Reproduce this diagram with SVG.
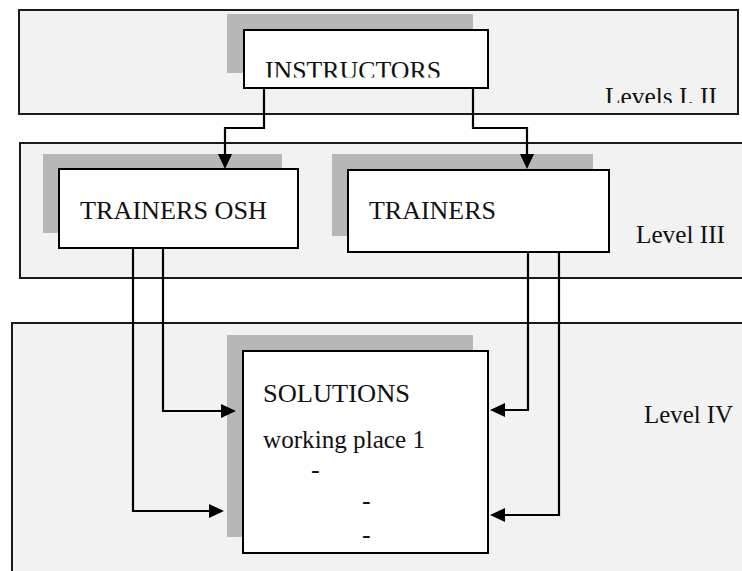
<svg xmlns="http://www.w3.org/2000/svg" width="742" height="571" viewBox="0 0 742 571">
  <style>
    .band { fill: #f2f2f2; stroke: #1a1a1a; stroke-width: 2; }
    .shadow { fill: #b7b7b7; stroke: none; }
    .box { fill: #ffffff; stroke: #000000; stroke-width: 2; }
    .label { font-family: "Liberation Serif", "DejaVu Serif", serif; font-size: 26px; fill: #111111; }
    .wire { fill: none; stroke: #000000; stroke-width: 2.2; }
  </style>
  <defs>
    <marker id="head" viewBox="0 0 15 14" refX="0" refY="7" markerWidth="15" markerHeight="14" markerUnits="userSpaceOnUse" orient="auto">
      <path d="M0,0 L15,7 L0,14 Z" fill="#000000"/>
    </marker>
    <clipPath id="clipInstr" clipPathUnits="userSpaceOnUse">
      <rect x="244" y="30" width="244" height="47.5"/>
    </clipPath>
    <clipPath id="clipLv12" clipPathUnits="userSpaceOnUse">
      <rect x="590" y="70" width="140" height="33"/>
    </clipPath>
  </defs>

  <!-- level bands -->
  <g id="band-levels-1-2">
    <rect class="band" x="19" y="10" width="719" height="104"/>
    <text class="label" x="605" y="105" textLength="112" lengthAdjust="spacingAndGlyphs" clip-path="url(#clipLv12)">Levels I. II</text>
  </g>
  <g id="band-level-3">
    <rect class="band" x="20" y="143" width="730" height="135"/>
    <text class="label" x="636" y="243" textLength="89" lengthAdjust="spacingAndGlyphs">Level III</text>
  </g>
  <g id="band-level-4">
    <rect class="band" x="12" y="323" width="740" height="260"/>
    <text class="label" x="644" y="423" textLength="89" lengthAdjust="spacingAndGlyphs">Level IV</text>
  </g>

  <!-- nodes -->
  <g id="instructors">
    <rect class="shadow" x="227" y="14" width="246" height="59"/>
    <rect class="box" x="244" y="30" width="244" height="58"/>
    <text class="label" x="265" y="79" textLength="176" lengthAdjust="spacingAndGlyphs" clip-path="url(#clipInstr)">INSTRUCTORS</text>
  </g>
  <g id="trainers-osh">
    <rect class="shadow" x="43" y="154" width="239" height="79"/>
    <rect class="box" x="59" y="169" width="239" height="79"/>
    <text class="label" x="80" y="219" textLength="187" lengthAdjust="spacingAndGlyphs">TRAINERS OSH</text>
  </g>
  <g id="trainers">
    <rect class="shadow" x="332" y="154" width="261" height="82"/>
    <rect class="box" x="348" y="170" width="261" height="82"/>
    <text class="label" x="369" y="219" textLength="127" lengthAdjust="spacingAndGlyphs">TRAINERS</text>
  </g>
  <g id="solutions">
    <rect class="shadow" x="227" y="335" width="246" height="202"/>
    <rect class="box" x="243" y="351" width="245" height="202"/>
    <text class="label" x="263" y="402" textLength="147" lengthAdjust="spacingAndGlyphs">SOLUTIONS</text>
    <text class="label" x="263" y="448" textLength="162" lengthAdjust="spacingAndGlyphs">working place 1</text>
    <text class="label" x="311" y="478">-</text>
    <text class="label" x="362" y="509">-</text>
    <text class="label" x="362" y="543">-</text>
  </g>

  <!-- connectors -->
  <g id="connectors">
    <path class="wire" d="M264,88 V128 H225 V154" marker-end="url(#head)"/>
    <path class="wire" d="M473,88 V128 H527 V154" marker-end="url(#head)"/>
    <path class="wire" d="M163,248 V411 H221" marker-end="url(#head)"/>
    <path class="wire" d="M133,248 V511 H209" marker-end="url(#head)"/>
    <path class="wire" d="M528,252 V410 H505" marker-end="url(#head)"/>
    <path class="wire" d="M559,252 V515 H505" marker-end="url(#head)"/>
  </g>
</svg>
